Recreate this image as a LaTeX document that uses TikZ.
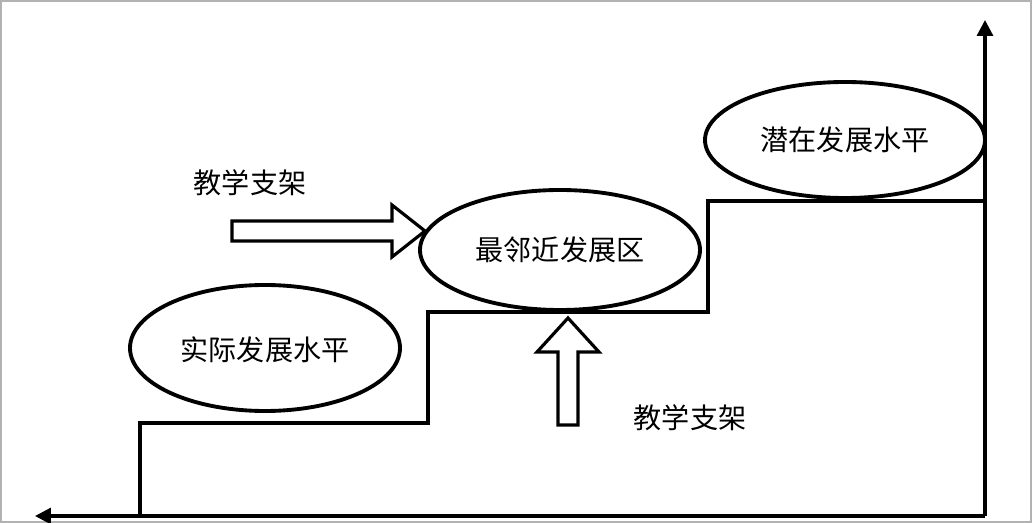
\documentclass[tikz,border=0pt]{standalone}
\usepackage{fontspec}
\setmainfont{Noto Sans CJK SC}
\usetikzlibrary{arrows.meta}
\begin{document}
\begin{tikzpicture}[x=0.02cm,y=-0.02cm,
  ln/.style={line width=1.8pt,line join=miter},
  ell/.style={draw,line width=2.2pt,ellipse,inner sep=0pt},
  lbl/.style={font=\fontsize{16}{16}\selectfont}]
\useasboundingbox (0,0) rectangle (1032,523);
\draw[gray!60,line width=0.8pt] (1,1) rectangle (1031,522);
% axes
\coordinate (o) at (985,516);
\coordinate (xl) at (35,516);
\coordinate (yt) at (985,20);
\draw[ln,-{Triangle[length=9pt,width=9pt]}] (o) -- (xl);
\draw[ln,-{Triangle[length=9pt,width=9pt]}] (o) -- (yt);
% stairs
\draw[ln] (140,516) |- (428,423) |- (708,312) |- (985,201);
% ellipses
\draw[line width=2.2pt] (265,348) ellipse [x radius=135, y radius=63];
\draw[line width=2.2pt] (560,250) ellipse [x radius=140, y radius=60];
\draw[line width=2.2pt] (845,140) ellipse [x radius=140, y radius=58];
\node[lbl] (a) at (265,350) {实际发展水平};
\node[lbl] (b) at (560,250) {最邻近发展区};
\node[lbl] (c) at (845,140) {潜在发展水平};
% hollow arrows
\draw[ln] (232,221) -- (392,221) -- (392,205) -- (425,231) -- (392,257) -- (392,241) -- (232,241) -- cycle;
\draw[ln] (558,425) -- (558,352) -- (537,352) -- (568,318) -- (599,352) -- (578,352) -- (578,425) -- cycle;
\node[lbl] (t1) at (250,183) {教学支架};
\node[lbl] (t2) at (690,418) {教学支架};
\end{tikzpicture}
\end{document}
